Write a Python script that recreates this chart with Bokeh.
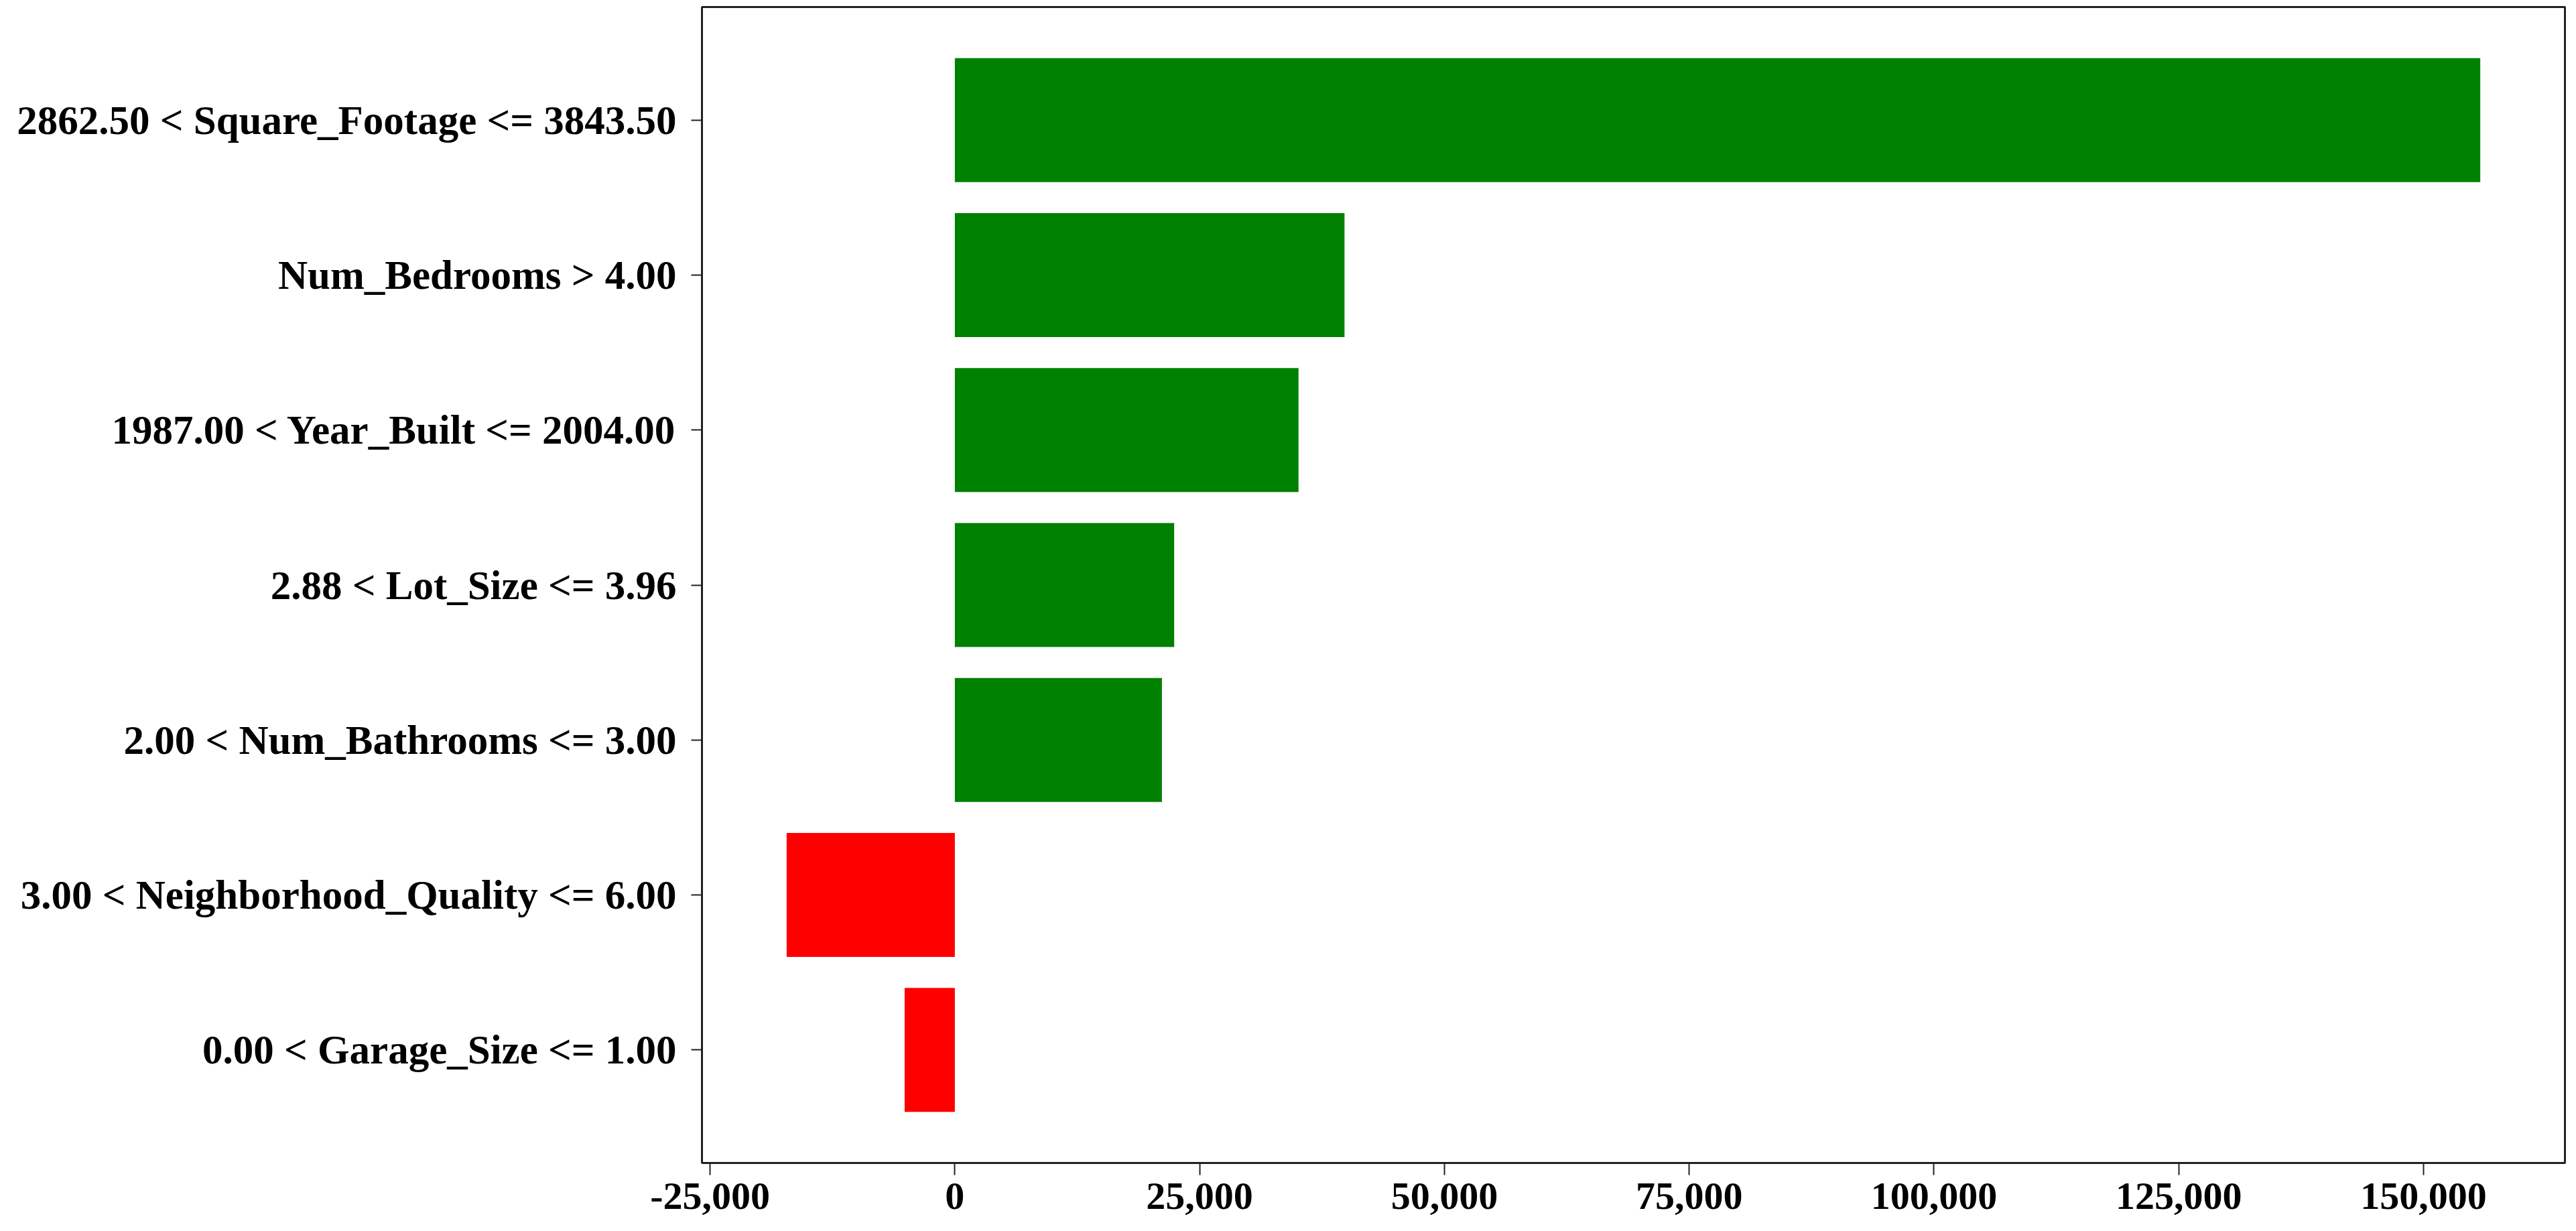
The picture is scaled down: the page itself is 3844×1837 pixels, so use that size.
from bokeh.plotting import figure
from bokeh.models import FactorRange, Range1d, FixedTicker, NumeralTickFormatter, ColumnDataSource
from bokeh.embed import file_html
from bokeh.resources import INLINE

# Data (top to bottom as shown)
features = [
    "2862.50 < Square_Footage <= 3843.50",
    "Num_Bedrooms > 4.00",
    "1987.00 < Year_Built <= 2004.00",
    "2.88 < Lot_Size <= 3.96",
    "2.00 < Num_Bathrooms <= 3.00",
    "3.00 < Neighborhood_Quality <= 6.00",
    "0.00 < Garage_Size <= 1.00",
]
contributions = [155800, 39800, 35100, 22400, 21150, -17180, -5130]
x_ticks = [-25000, 0, 25000, 50000, 75000, 100000, 125000, 150000]

colors = ["#008000" if v > 0 else "#ff0000" for v in contributions]
lefts = [min(0, v) for v in contributions]
rights = [max(0, v) for v in contributions]

lo = min(lefts)
hi = max(rights)
span = hi - lo
x_start = lo - 0.05 * span
x_end = hi + 0.05 * span

factors = list(reversed(features))

src = ColumnDataSource(dict(y=features, left=lefts, right=rights, color=colors))

p = figure(
    width=3836, height=1829,
    y_range=FactorRange(factors=factors, range_padding=0.23, range_padding_units="absolute"),
    x_range=Range1d(x_start, x_end),
    output_backend="svg", toolbar_location=None,
    min_border_left=1047, min_border_right=9, min_border_top=10, min_border_bottom=94,
)

p.hbar(y="y", left="left", right="right", height=0.8, color="color", line_color=None, source=src)

p.xgrid.visible = False
p.ygrid.visible = False
p.outline_line_color = "#222222"
p.outline_line_width = 3
p.background_fill_color = "white"
p.border_fill_color = "white"

font = "Liberation Serif"
p.xaxis.ticker = FixedTicker(ticks=x_ticks)
p.xaxis.formatter = NumeralTickFormatter(format="0,0")
for ax in (p.xaxis, p.yaxis):
    ax.axis_line_color = None
    ax.major_label_text_font = font
    ax.major_label_text_font_style = "bold"
    ax.major_label_text_color = "black"
    ax.major_tick_line_color = "#222222"
    ax.major_tick_line_width = 2
    ax.major_tick_in = 0
    ax.minor_tick_line_color = None

p.xaxis.major_label_text_font_size = "58px"
p.yaxis.major_label_text_font_size = "61px"
p.xaxis.major_tick_out = 18
p.xaxis.major_label_standoff = 12
p.yaxis.major_tick_out = 16
p.yaxis.major_label_standoff = 22

open("out.html", "w").write(file_html(p, INLINE))
